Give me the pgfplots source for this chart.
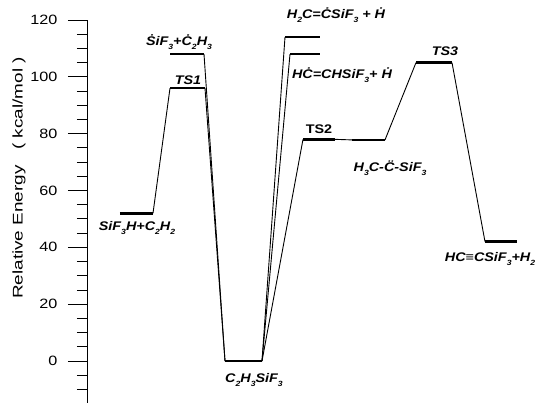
\documentclass[border=0pt]{standalone}
\usepackage{fontspec}
\setmainfont{Liberation Sans}
\newfontfamily\labfont[FakeStretch=1.15]{Liberation Sans}
\newfontfamily\tickfont[FakeStretch=1.2]{Liberation Sans}
\newfontfamily\ylabfont[FakeStretch=1.35]{Liberation Sans}
\usepackage{pgfplots}
\pgfplotsset{compat=1.18}
\newcommand{\s}[1]{\raisebox{-0.5ex}{\fontsize{7.5}{8}\selectfont #1}}
\newcommand{\lab}{\labfont\fontsize{12.5}{14}\selectfont\bfseries\itshape}
\begin{document}
\begin{tikzpicture}
\useasboundingbox (-87pt,0pt) rectangle (451pt,403pt);
\begin{axis}[
  scale only axis, width=451pt, height=383pt,
  xmin=87, xmax=538, ymin=-14.78, ymax=120,
  hide x axis, axis y line*=left,
  clip=false,
  tick align=outside,
  ytick={0,20,40,60,80,100,120},
  minor ytick={-10,-5,5,10,15,25,30,35,45,50,55,65,70,75,85,90,95,105,110,115},
  major tick length=19pt, minor tick length=10pt,
  every tick/.style={black, line width=0.9pt},
  y axis line style={line width=0.9pt, -},
  yticklabel style={font=\tickfont\fontsize{13.5}{15}\selectfont, xshift=-7pt},
  /pgf/number format/assume math mode=true,
]
% levels
\pgfplotsset{lev/.style={black, line width=2.6pt}, con/.style={black, line width=0.9pt}}
\addplot[lev] coordinates {(120,52) (153,52)};
\addplot[lev] coordinates {(170,96) (205,96)};
\addplot[lev] coordinates {(170,108) (204,108)};
\addplot[lev] coordinates {(225,0) (262,0)};
\addplot[lev] coordinates {(285,114) (320,114)};
\addplot[lev] coordinates {(290,108) (320,108)};
\addplot[lev] coordinates {(303,78) (335,78)};
\addplot[lev] coordinates {(352,77.8) (385,77.8)};
\addplot[lev] coordinates {(416,105) (452,105)};
\addplot[lev] coordinates {(485,42) (517,42)};
% connectors
\addplot[con] coordinates {(153,52) (170,96)};
\addplot[con] coordinates {(205,96) (225,0)};
\addplot[con] coordinates {(204,108) (225,0)};
\addplot[con] coordinates {(262,0) (285,114)};
\addplot[con] coordinates {(262,0) (290,108)};
\addplot[con] coordinates {(262,0) (303,78)};
\addplot[con] coordinates {(335,78) (352,77.8)};
\addplot[con] coordinates {(385,77.8) (416,105)};
\addplot[con] coordinates {(452,105) (485,42)};
% labels
\node[font=\lab] at (axis cs:137,46.8) {SiF\s{3}H+C\s{2}H\s{2}};
\node[font=\lab] at (axis cs:179,112.2) {\.{S}iF\s{3}+\.{C}\s{2}H\s{3}};
\node[font=\lab] at (axis cs:188,98.9) {TS1};
\node[font=\lab] at (axis cs:336,121.7) {H\s{2}C=\.{C}SiF\s{3} + \.{H}};
\node[font=\lab] at (axis cs:342,100.6) {H\.{C}=CHSiF\s{3}+ \.{H}};
\node[font=\labfont\fontsize{12.5}{14}\selectfont\bfseries] at (axis cs:319,81.6) {TS2};
\node[font=\lab] at (axis cs:390,67.9) {H\s{3}C-\"{C}-SiF\s{3}};
\node[font=\lab] at (axis cs:445,109.1) {TS3};
\node[font=\lab] at (axis cs:490,35.9) {HC≡CSiF\s{3}+H\s{2}};
\node[font=\lab] at (axis cs:254,-6.7) {C\s{2}H\s{3}SiF\s{3}};
\node[rotate=90, font=\ylabfont\fontsize{14}{16}\selectfont] at (axis cs:19,64.4) {Relative Energy\ \ \ (\ kcal/mol\ )};
\end{axis}
\end{tikzpicture}
\end{document}
